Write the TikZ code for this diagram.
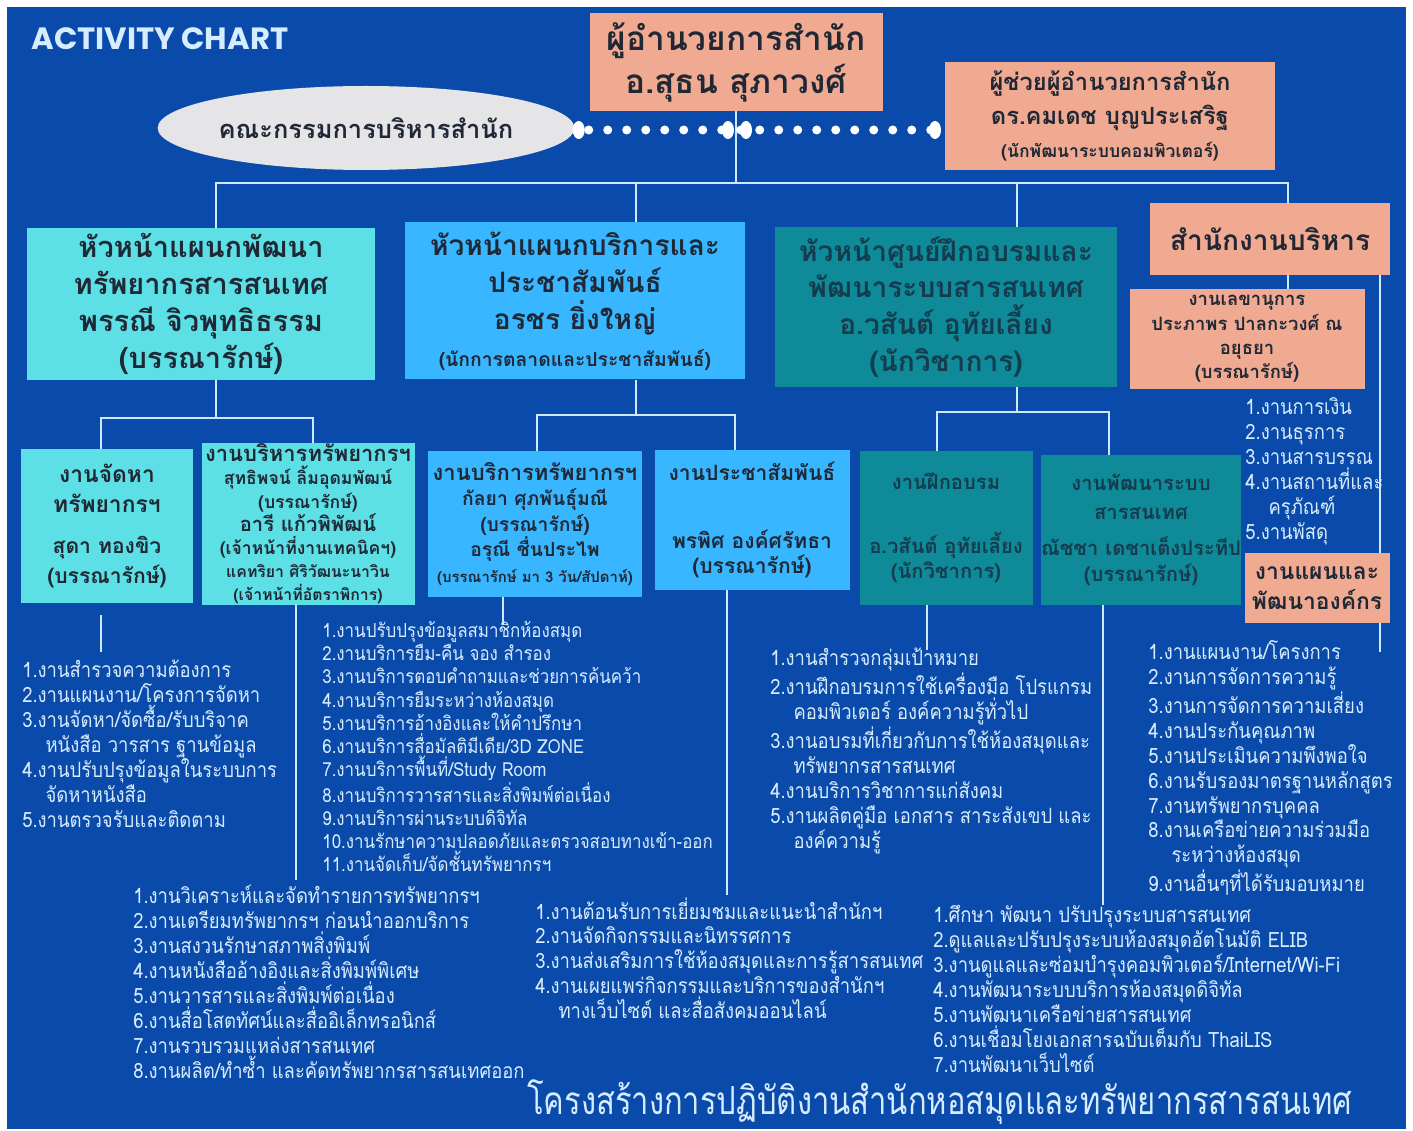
\documentclass[tikz,border=0pt]{standalone}
\usepackage{fontspec}
\setmainfont{Loma}[Script=Thai]
\newfontfamily\titlefont{Poppins}
\newfontfamily\listfont{Loma}[Script=Thai,FakeStretch=0.875]
\newfontfamily\footfont{Loma}[Script=Thai,FakeStretch=0.8]
\usepackage{xcolor}
\usetikzlibrary{shapes.geometric, positioning}

\definecolor{bgblue}{RGB}{10,74,170}
\definecolor{salmon}{RGB}{240,170,146}
\definecolor{devcyan}{RGB}{92,224,230}
\definecolor{svcblue}{RGB}{56,182,255}
\definecolor{trainteal}{RGB}{14,138,152}
\definecolor{darktxt}{RGB}{32,40,54}
\definecolor{tealtxt}{RGB}{20,60,78}
\definecolor{listtxt}{RGB}{214,236,255}
\definecolor{linecol}{RGB}{205,232,255}
\definecolor{ovalgray}{RGB}{229,229,232}

\newlength{\px}
\setlength{\px}{0.02cm}
\newcommand{\fs}[2]{\fontsize{#1}{#2}\selectfont}

\begin{document}
\begin{tikzpicture}[x=0.02cm, y=-0.02cm, font=\small]
	\tikzstyle{unit} = [rectangle, inner sep=0pt, align=center, text=darktxt]
	\tikzstyle{salmonbox} = [unit, fill=salmon]
	\tikzstyle{devbox} = [unit, fill=devcyan]
	\tikzstyle{svcbox} = [unit, fill=svcblue]
	\tikzstyle{trainbox} = [unit, fill=trainteal, text=tealtxt]
	\tikzstyle{duties} = [anchor=north west, align=left, inner sep=0pt, text=listtxt]
	\tikzstyle{line} = [draw=linecol, line width=2\px]
	\tikzstyle{dots} = [draw=white, line width=9\px, line cap=round, dash pattern=on 0pt off 19\px]

	% Background
	\useasboundingbox (0,0) rectangle (1413,1131);
	\fill[white] (0,0) rectangle (1413,1131);
	\fill[bgblue] (7,7) rectangle (1406,1129);

	\node (title) [anchor=west, inner sep=0pt, text=listtxt, font=\titlefont\bfseries\fs{17.5}{21}] at (31,39) {ACTIVITY CHART};

	% Top level
	\node (director) [salmonbox, minimum width=293\px, minimum height=98\px, font=\bfseries\fs{19}{24.5}] at (736,62) {ผู้อำนวยการสำนัก\\อ.สุธน สุภาวงศ์};
	\node (committee) [ellipse, inner sep=0pt, fill=ovalgray, text=darktxt, minimum width=410\px, minimum height=84\px, font=\bfseries\fs{14.5}{17}] at (366,128) {คณะกรรมการบริหารสำนัก};
	\node (assistant) [salmonbox, minimum width=330\px, minimum height=108\px, font=\bfseries\fs{13.5}{19}] at (1110,116) {ผู้ช่วยผู้อำนวยการสำนัก\\ดร.คมเดช บุญประเสริฐ\\{\fs{10}{16}(นักพัฒนาระบบคอมพิวเตอร์)}};

	% Level 1 nodes
	\node (headdev) [devbox, minimum width=348\px, minimum height=152\px, font=\bfseries\fs{16.5}{21}] at (201,304) {หัวหน้าแผนกพัฒนา\\ทรัพยากรสารสนเทศ\\พรรณี จิวพุทธิธรรม\\(บรรณารักษ์)};
	\node (headsvc) [svcbox, minimum width=340\px, minimum height=157\px, font=\bfseries\fs{16}{21}] at (575,301) {หัวหน้าแผนกบริการและ\\ประชาสัมพันธ์\\อรชร ยิ่งใหญ่\\{\fs{11}{15}(นักการตลาดและประชาสัมพันธ์)}};
	\node (headtrain) [trainbox, minimum width=342\px, minimum height=160\px, font=\bfseries\fs{16}{21}] at (946,307) {หัวหน้าศูนย์ฝึกอบรมและ\\พัฒนาระบบสารสนเทศ\\อ.วสันต์ อุทัยเลี้ยง\\(นักวิชาการ)};
	\node (adminoffice) [salmonbox, minimum width=240\px, minimum height=72\px, font=\bfseries\fs{16}{20}] at (1270,239) {สำนักงานบริหาร};
	\node (secretary) [salmonbox, minimum width=235\px, minimum height=100\px, font=\bfseries\fs{10.5}{13.8}] at (1247,339) {งานเลขานุการ\\ประภาพร ปาลกะวงศ์ ณ\\อยุธยา\\(บรรณารักษ์)};
	\node (planning) [salmonbox, minimum width=145\px, minimum height=70\px, font=\bfseries\fs{13}{17}] at (1317,588) {งานแผนและ\\พัฒนาองค์กร};

	% Level 2 nodes
	\node (acq) [devbox, minimum width=172\px, minimum height=153\px, font=\bfseries\fs{13}{17}] at (107,526) {งานจัดหา\\ทรัพยากรฯ\\[6pt]{\fs{12}{14}สุดา ทองขิว}\\{\fs{12}{14}(บรรณารักษ์)}};
	\node (resmgmt) [devbox, minimum width=213\px, minimum height=162\px, font=\bfseries\fs{10}{13.2}] at (308,524) {{\fs{12.5}{14}งานบริหารทรัพยากรฯ}\\สุทธิพจน์ ลิ้มอุดมพัฒน์\\(บรรณารักษ์)\\{\fs{11.5}{14}อารี แก้วพิพัฒน์}\\(เจ้าหน้าที่งานเทคนิคฯ)\\{\fs{9}{12}แคทริยา ศิริวัฒนะนาวิน}\\{\fs{9}{12}(เจ้าหน้าที่อัตราพิการ)}};
	\node (circ) [svcbox, minimum width=214\px, minimum height=145\px, font=\bfseries\fs{11}{14.5}] at (535,524) {{\fs{12.5}{15}งานบริการทรัพยากรฯ}\\กัลยา ศุภพันธุ์มณี\\(บรรณารักษ์)\\อรุณี ชื่นประไพ\\{\fs{8.5}{12}(บรรณารักษ์ มา 3 วัน/สัปดาห์)}};
	\node (pr) [svcbox, minimum width=195\px, minimum height=140\px, font=\bfseries\fs{12}{14.5}] at (752,520) {งานประชาสัมพันธ์\\[24pt]พรพิศ องค์ศรัทธา\\(บรรณารักษ์)};
	\node (training) [trainbox, minimum width=173\px, minimum height=153\px, font=\bfseries\fs{11.5}{14.5}] at (946,528) {งานฝึกอบรม\\[22pt]อ.วสันต์ อุทัยเลี้ยง\\(นักวิชาการ)};
	\node (sysdev) [trainbox, minimum width=192\px, minimum height=150\px, font=\bfseries\fs{11.5}{14.5}] at (1141,530) {งานพัฒนาระบบ\\[2pt]สารสนเทศ\\[6pt]ณัชชา เดชาเต็งประทีป\\(บรรณารักษ์)};

	% Duty lists
	\node (adminlist) [duties, font=\listfont\fs{12}{14.2}] at (1245,397) {1.งานการเงิน\\2.งานธุรการ\\3.งานสารบรรณ\\4.งานสถานที่และ\\\hspace*{1.1em}ครุภัณฑ์\\5.งานพัสดุ};
	\node (acqlist) [duties, font=\listfont\fs{12}{14.2}] at (22,660) {1.งานสำรวจความต้องการ\\2.งานแผนงาน/โครงการจัดหา\\3.งานจัดหา/จัดซื้อ/รับบริจาค\\\hspace*{1.1em}หนังสือ วารสาร ฐานข้อมูล\\4.งานปรับปรุงข้อมูลในระบบการ\\\hspace*{1.1em}จัดหาหนังสือ\\5.งานตรวจรับและติดตาม};
	\node (circlist) [duties, font=\listfont\fs{11}{13.2}] at (322,621) {1.งานปรับปรุงข้อมูลสมาชิกห้องสมุด\\2.งานบริการยืม-คืน จอง สำรอง\\3.งานบริการตอบคำถามและช่วยการค้นคว้า\\4.งานบริการยืมระหว่างห้องสมุด\\5.งานบริการอ้างอิงและให้คำปรึกษา\\6.งานบริการสื่อมัลติมีเดีย/3D ZONE\\7.งานบริการพื้นที่/Study Room\\8.งานบริการวารสารและสิ่งพิมพ์ต่อเนื่อง\\9.งานบริการผ่านระบบดิจิทัล\\10.งานรักษาความปลอดภัยและตรวจสอบทางเข้า-ออก\\11.งานจัดเก็บ/จัดชั้นทรัพยากรฯ};
	\node (resmgmtlist) [duties, font=\listfont\fs{12}{14.2}] at (133,885) {1.งานวิเคราะห์และจัดทำรายการทรัพยากรฯ\\2.งานเตรียมทรัพยากรฯ ก่อนนำออกบริการ\\3.งานสงวนรักษาสภาพสิ่งพิมพ์\\4.งานหนังสืออ้างอิงและสิ่งพิมพ์พิเศษ\\5.งานวารสารและสิ่งพิมพ์ต่อเนื่อง\\6.งานสื่อโสตทัศน์และสื่ออิเล็กทรอนิกส์\\7.งานรวบรวมแหล่งสารสนเทศ\\8.งานผลิต/ทำซ้ำ และคัดทรัพยากรสารสนเทศออก};
	\node (prlist) [duties, font=\listfont\fs{12}{14.2}] at (535,897) {1.งานต้อนรับการเยี่ยมชมและแนะนำสำนักฯ\\2.งานจัดกิจกรรมและนิทรรศการ\\3.งานส่งเสริมการใช้ห้องสมุดและการรู้สารสนเทศ\\4.งานเผยแพร่กิจกรรมและบริการของสำนักฯ\\\hspace*{1.1em}ทางเว็บไซต์ และสื่อสังคมออนไลน์};
	\node (traininglist) [duties, font=\listfont\fs{12}{14.2}] at (770,648) {1.งานสำรวจกลุ่มเป้าหมาย\\2.งานฝึกอบรมการใช้เครื่องมือ โปรแกรม\\\hspace*{1.1em}คอมพิวเตอร์ องค์ความรู้ทั่วไป\\3.งานอบรมที่เกี่ยวกับการใช้ห้องสมุดและ\\\hspace*{1.1em}ทรัพยากรสารสนเทศ\\4.งานบริการวิชาการแก่สังคม\\5.งานผลิตคู่มือ เอกสาร สาระสังเขป และ\\\hspace*{1.1em}องค์ความรู้};
	\node (sysdevlist) [duties, font=\listfont\fs{12}{14.2}] at (933,905) {1.ศึกษา พัฒนา ปรับปรุงระบบสารสนเทศ\\2.ดูแลและปรับปรุงระบบห้องสมุดอัตโนมัติ ELIB\\3.งานดูแลและซ่อมบำรุงคอมพิวเตอร์/Internet/Wi-Fi\\4.งานพัฒนาระบบบริการห้องสมุดดิจิทัล\\5.งานพัฒนาเครือข่ายสารสนเทศ\\6.งานเชื่อมโยงเอกสารฉบับเต็มกับ ThaiLIS\\7.งานพัฒนาเว็บไซต์};
	\node (planlist) [duties, font=\listfont\fs{12}{14.2}] at (1148,640) {1.งานแผนงาน/โครงการ\\2.งานการจัดการความรู้\\3.งานการจัดการความเสี่ยง\\4.งานประกันคุณภาพ\\5.งานประเมินความพึงพอใจ\\6.งานรับรองมาตรฐานหลักสูตร\\7.งานทรัพยากรบุคคล\\8.งานเครือข่ายความร่วมมือ\\\hspace*{1.1em}ระหว่างห้องสมุด\\9.งานอื่นๆที่ได้รับมอบหมาย};

	\node (footer) [anchor=base west, inner sep=0pt, text=listtxt, font=\footfont\fs{22}{26}] at (527,1114) {โครงสร้างการปฏิบัติงานสำนักหอสมุดและทรัพยากรสารสนเทศ};

	% Lines
	\coordinate (bus) at (737,183);
	\draw[line] (director.south) -- (director.south |- bus);
	\draw[line] ([xshift=15\px]headdev.north) |- (bus) -| ([xshift=18\px]adminoffice.north);
	\draw[line] ([xshift=61\px]headsvc.north) -- ([xshift=61\px]headsvc.north |- bus);
	\draw[line] ([xshift=71\px]headtrain.north) -- ([xshift=71\px]headtrain.north |- bus);
	\coordinate (dotsend) at (935,130);
	\draw[dots] ([xshift=14\px,yshift=-2\px]committee.east) -- (dotsend);
	\fill[white] ([xshift=4\px,yshift=-2\px]committee.east) ellipse [x radius=6\px, y radius=9\px];
	\fill[white] (dotsend) ellipse [x radius=6\px, y radius=9\px];
	\fill[white] (728,130) ellipse [x radius=6\px, y radius=9\px];
	\fill[white] (746,130) ellipse [x radius=6\px, y radius=9\px];
	\draw[line] ([xshift=18\px]adminoffice.south) -- ([xshift=41\px]secretary.north);
	\draw[line] ([xshift=110\px]adminoffice.south) -- ([xshift=63\px]planning.north);
	\coordinate (planend) at (1380,652);
	\draw[line] ([xshift=63\px]planning.south) -- (planend);

	\coordinate (devbar) at (216,418);
	\draw[line] ([xshift=15\px]headdev.south) -- (devbar);
	\draw[line] ([xshift=-6\px]acq.north) |- (devbar) -| ([xshift=5\px]resmgmt.north);
	\coordinate (svcbar) at (636,415);
	\draw[line] ([xshift=61\px]headsvc.south) -- (svcbar);
	\draw[line] ([xshift=2\px]circ.north) |- (svcbar) -| ([xshift=-17\px]pr.north);
	\coordinate (trainbar) at (1017,412);
	\draw[line] ([xshift=71\px]headtrain.south) -- (trainbar);
	\draw[line] ([xshift=-9\px]training.north) |- (trainbar) -| ([xshift=-32\px]sysdev.north);

	\coordinate (acqend) at (101,652);
	\draw[line] ([xshift=-6\px,yshift=-12\px]acq.south) -- (acqend);
	\coordinate (resmgmtend) at (296,880);
	\draw[line] ([xshift=-12\px]resmgmt.south) -- (resmgmtend);
	\coordinate (circend) at (503,625);
	\draw[line] ([xshift=-32\px]circ.south) -- (circend);
	\coordinate (prend) at (727,895);
	\draw[line] ([xshift=-25\px]pr.south) -- (prend);
	\coordinate (trainingend) at (927,650);
	\draw[line] ([xshift=-19\px]training.south) -- (trainingend);
	\coordinate (sysdevend) at (1103,905);
	\draw[line] ([xshift=-38\px]sysdev.south) -- (sysdevend);
\end{tikzpicture}
\end{document}
